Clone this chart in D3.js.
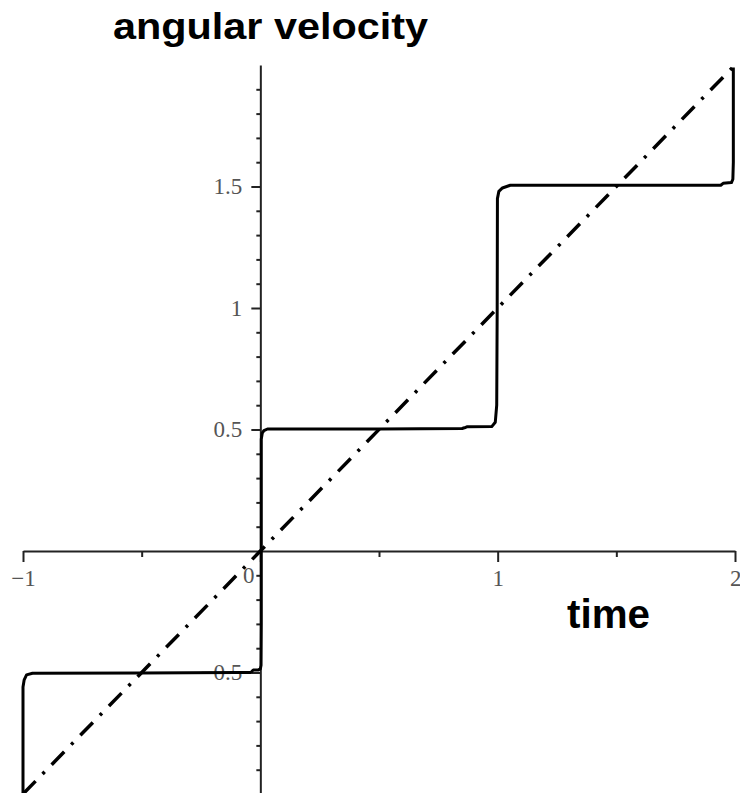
<!DOCTYPE html>
<html>
<head>
<meta charset="utf-8">
<script src="https://cdn.jsdelivr.net/npm/d3@7"></script>
<style>
  html, body { margin: 0; padding: 0; background: #fff; }
  svg { display: block; }
</style>
</head>
<body>
<svg id="chart" width="740" height="793"></svg>
<script>
// ---- data ----
const xDomain = [-1, 2];
const yDomain = [-1, 2];
const xMajorTicks = [-1, 0, 1, 2];
const xMinorTicks = [-0.5, 0.5, 1.5];
const yMajorTicks = [-0.5, 0.5, 1, 1.5];
const yMinorTicks = [-0.9, -0.8, -0.7, -0.6, -0.4, -0.3, -0.2, -0.1,
                     0.1, 0.2, 0.3, 0.4, 0.6, 0.7, 0.8, 0.9,
                     1.1, 1.2, 1.3, 1.4, 1.6, 1.7, 1.8, 1.9];
// angular velocity (solid, smoothed staircase)
const solidT = [-1.0, -1.0, -0.995, -0.985, -0.96, -0.5, -0.1, -0.04, -0.03, -0.01, 0.0, 0.003, 0.004, 0.004, 0.008, 0.015, 0.03, 0.5, 0.85, 0.86, 0.87, 0.975, 0.99, 0.996, 0.998, 0.999, 1.005, 1.02, 1.053, 1.5, 1.94, 1.95, 1.985, 1.991, 1.993, 1.993];
const solidW = [-1.0, -0.56, -0.53, -0.51, -0.503, -0.502, -0.5, -0.5, -0.49, -0.49, -0.485, -0.47, -0.3, 0.46, 0.485, 0.495, 0.502, 0.502, 0.504, 0.507, 0.511, 0.512, 0.53, 0.6, 1.0, 1.45, 1.48, 1.494, 1.505, 1.505, 1.505, 1.513, 1.516, 1.53, 1.6, 1.99];
// reference line (dash-dot)
const lineT = [-1, 2];
const lineW = [-1, 2];
const yTitle = "angular velocity";
const xTitle = "time";

// ---- drawing ----
const svg = d3.select("#chart");
const x = d3.scaleLinear().domain(xDomain).range([23, 735]);
const y = d3.scaleLinear().domain(yDomain).range([794, 65]);
const fmt = d3.format("~g");

const axisColor = "#222";
const labelColor = "#555";
const labelFont = "'Liberation Serif', 'Times New Roman', serif";

// x axis
const gx = svg.append("g").attr("transform", `translate(0,${y(0)})`);
gx.call(d3.axisBottom(x).tickValues(xMajorTicks).tickSize(11).tickPadding(8).tickSizeOuter(0).tickFormat(fmt));
const gxm = svg.append("g").attr("transform", `translate(0,${y(0)})`);
gxm.call(d3.axisBottom(x).tickValues(xMinorTicks).tickSize(6).tickFormat("").tickSizeOuter(0));
gxm.select(".domain").remove();
gx.select(".domain").attr("stroke", axisColor).attr("stroke-width", 2);
[gx, gxm].forEach(g => g.selectAll(".tick line").attr("stroke", axisColor).attr("stroke-width", 2));
gx.selectAll(".tick text")
  .attr("font-family", labelFont).attr("font-size", 23).attr("fill", labelColor)
  .attr("text-anchor", d => d === 2 ? "end" : "middle")
  .attr("dx", d => d === 0 ? -12 : (d === 2 ? 6 : 0))
  .attr("dy", d => d === 0 ? "0.57em" : "0.71em");

// y axis
const gy = svg.append("g").attr("transform", `translate(${x(0)},0)`);
gy.call(d3.axisLeft(y).tickValues(yMajorTicks).tickSize(9).tickPadding(9).tickSizeOuter(0).tickFormat(fmt));
const gym = svg.append("g").attr("transform", `translate(${x(0)},0)`);
gym.call(d3.axisLeft(y).tickValues(yMinorTicks).tickSize(4).tickFormat("").tickSizeOuter(0));
gym.select(".domain").remove();
gy.select(".domain").attr("stroke", axisColor).attr("stroke-width", 2);
[gy, gym].forEach(g => g.selectAll(".tick line").attr("stroke", axisColor).attr("stroke-width", 2));
gy.selectAll(".tick text")
  .attr("font-family", labelFont).attr("font-size", 23).attr("fill", labelColor);

// curves
const lineGen = d3.line().x(d => x(d[0])).y(d => y(d[1]));
svg.append("path")
  .datum(lineT.map((t, i) => [t, lineW[i]]))
  .attr("d", lineGen)
  .attr("fill", "none").attr("stroke", "#000").attr("stroke-width", 3.5)
  .attr("stroke-dasharray", "18,10,3,10");

svg.append("path")
  .datum(solidT.map((t, i) => [t, solidW[i]]))
  .attr("d", lineGen)
  .attr("fill", "none").attr("stroke", "#000").attr("stroke-width", 3)
  .attr("stroke-linejoin", "round");

// titles
svg.append("text").attr("x", 113).attr("y", 39)
  .attr("font-family", "'Liberation Sans', Arial, sans-serif").attr("font-weight", "bold")
  .attr("font-size", 36).attr("textLength", 315).attr("lengthAdjust", "spacingAndGlyphs")
  .text(yTitle);
svg.append("text").attr("x", 567).attr("y", 628)
  .attr("font-family", "'Liberation Sans', Arial, sans-serif").attr("font-weight", "bold")
  .attr("font-size", 40).attr("textLength", 83).attr("lengthAdjust", "spacingAndGlyphs")
  .text(xTitle);
</script>
</body>
</html>
